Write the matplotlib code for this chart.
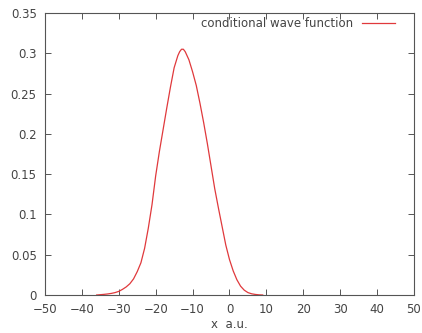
import matplotlib
matplotlib.use("Agg")
import matplotlib.pyplot as plt

# conditional wave function
x = [-36, -35, -34, -33, -32, -31, -30, -29, -28, -27, -26, -25, -24, -23,
     -22, -21, -20, -19, -18, -17, -16, -15, -14, -13.5, -13, -12.5, -12,
     -11, -10, -9, -8, -7, -6, -5, -4, -3, -2, -1, 0, 1, 2, 3, 4, 5, 6, 7,
     8, 9]
psi = [0.0, 0.0004, 0.0008, 0.0013, 0.002, 0.003, 0.0045, 0.007, 0.010,
       0.014, 0.020, 0.029, 0.040, 0.058, 0.083, 0.112, 0.148, 0.178,
       0.205, 0.232, 0.258, 0.282, 0.297, 0.302, 0.305, 0.305, 0.302,
       0.292, 0.277, 0.260, 0.238, 0.214, 0.188, 0.160, 0.132, 0.108,
       0.085, 0.062, 0.044, 0.030, 0.019, 0.011, 0.006, 0.003, 0.0015,
       0.0007, 0.0002, 0.0]

xticks = list(range(-50, 51, 10))
yticks = [0, 0.05, 0.1, 0.15, 0.2, 0.25, 0.3, 0.35]
ylabels = ["0", "0.05", "0.1", "0.15", "0.2", "0.25", "0.3", "0.35"]

txt = "#444444"
plt.rcParams["font.family"] = "DejaVu Sans"
plt.rcParams["font.size"] = 8.5

fig = plt.figure(figsize=(4.22, 3.33), dpi=100)
ax = fig.add_axes([0.1066, 0.1141, 0.8744, 0.8469])

ax.plot(x, psi, color="#e0393c", lw=0.9, label="conditional wave function")

ax.set_xlim(-50, 50)
ax.set_ylim(0, 0.35)
ax.set_xticks(xticks)
ax.set_yticks(yticks)
ax.set_yticklabels(ylabels)
ax.tick_params(direction="in", length=4, width=0.7, colors="#555555",
               labelcolor=txt, top=True, right=True, pad=6)
for s in ax.spines.values():
    s.set_color("#555555")
    s.set_linewidth(0.8)

ax.set_xlabel("x  a.u.", color=txt, labelpad=1)

ax.legend(loc="upper right", markerfirst=False, frameon=False,
          handlelength=2.8, borderaxespad=0.1, labelcolor=txt,
          bbox_to_anchor=(0.965, 1.005))

fig.savefig("out.png", dpi=100)
